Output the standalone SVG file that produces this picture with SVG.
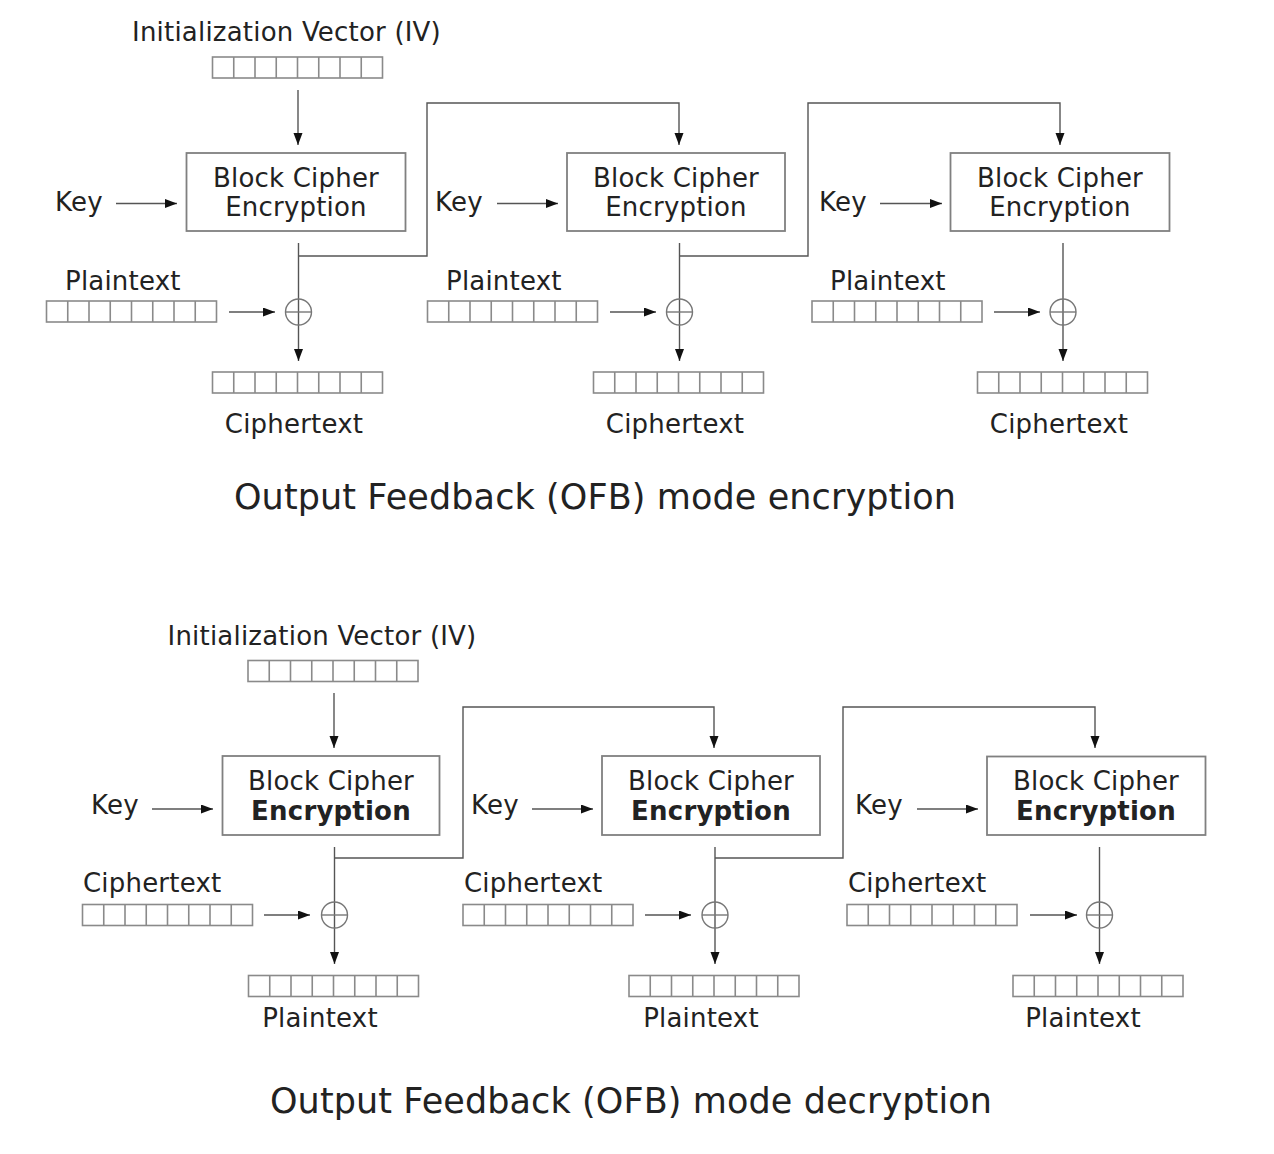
<svg xmlns="http://www.w3.org/2000/svg" xmlns:xlink="http://www.w3.org/1999/xlink" width="1274" height="1154" viewBox="0 0 1274 1154">
<style>
text{font-family:"DejaVu Sans","Verdana",sans-serif;fill:#222;}
.lbl{font-size:26px;letter-spacing:0.2px;}
.ttl{font-size:35px;letter-spacing:0.1px;}
.mid{text-anchor:middle;}
.bold{font-weight:bold;}
.box{fill:#fff;stroke:#808080;stroke-width:1.8;}
.cell{fill:none;stroke:#8a8a8a;stroke-width:1.6;}
.con{fill:none;stroke:#555;stroke-width:1.4;}
.arr{fill:none;stroke:#555;stroke-width:1.4;marker-end:url(#ah);}
.xor{fill:none;stroke:#777;stroke-width:1.4;}
</style>
<defs>
<marker id="ah" markerUnits="userSpaceOnUse" markerWidth="13" markerHeight="10" refX="12" refY="4.5" orient="auto">
<path d="M0,0 L12,4.5 L0,9 z" fill="#111"/>
</marker>
<g id="bytes">
<rect class="cell" x="0" y="0" width="170" height="21"/>
<path class="cell" d="M21.25,0V21M42.5,0V21M63.75,0V21M85,0V21M106.25,0V21M127.5,0V21M148.75,0V21"/>
</g>
</defs>
<rect width="1274" height="1154" fill="#fff"/>

<g id="connectors">
<!-- top: encryption -->
<path class="arr" d="M298,90V145"/>
<path class="arr" d="M116,203.5H177"/>
<path class="arr" d="M497,203.5H558"/>
<path class="arr" d="M880,203.5H942"/>
<path class="arr" d="M298.5,243V361"/>
<path class="arr" d="M679.5,243V361"/>
<path class="arr" d="M1063,243V361"/>
<path class="arr" d="M298.5,256H427V103H679V145"/>
<path class="arr" d="M679.5,256H808V103H1060V145"/>
<path class="arr" d="M229,312H275"/>
<path class="arr" d="M610,312H656"/>
<path class="arr" d="M994,312H1040"/>
<!-- bottom: decryption -->
<path class="arr" d="M334,693V748"/>
<path class="arr" d="M152,809H213"/>
<path class="arr" d="M532,809H593"/>
<path class="arr" d="M917,809H978"/>
<path class="arr" d="M334.5,847V964"/>
<path class="arr" d="M715,847V964"/>
<path class="arr" d="M1099.5,847V964"/>
<path class="arr" d="M334.5,858H463V707H714V748"/>
<path class="arr" d="M715,858H843V707H1095V748"/>
<path class="arr" d="M264,915H310"/>
<path class="arr" d="M645,915H691"/>
<path class="arr" d="M1030,915H1077"/>
</g>

<!-- ===== Encryption ===== -->
<g id="enc-iv">
<text class="lbl mid" x="286.5" y="41">Initialization Vector (IV)</text>
<use xlink:href="#bytes" x="212.5" y="57"/>
</g>
<g id="enc-block1">
<rect class="box" x="186.5" y="153" width="219" height="78"/>
<text class="lbl mid" x="296" y="186.5">Block Cipher</text>
<text class="lbl mid" x="296" y="215.5">Encryption</text>
</g>
<g id="enc-block2">
<rect class="box" x="567" y="153" width="218" height="78"/>
<text class="lbl mid" x="676" y="186.5">Block Cipher</text>
<text class="lbl mid" x="676" y="215.5">Encryption</text>
</g>
<g id="enc-block3">
<rect class="box" x="950.5" y="153" width="219" height="78"/>
<text class="lbl mid" x="1060" y="186.5">Block Cipher</text>
<text class="lbl mid" x="1060" y="215.5">Encryption</text>
</g>
<g id="enc-key1"><text class="lbl" x="55" y="211">Key</text></g>
<g id="enc-key2"><text class="lbl" x="435" y="211">Key</text></g>
<g id="enc-key3"><text class="lbl" x="819" y="211">Key</text></g>
<g id="enc-pt1"><text class="lbl" x="65" y="290">Plaintext</text><use xlink:href="#bytes" x="46.5" y="301"/></g>
<g id="enc-pt2"><text class="lbl" x="446" y="290">Plaintext</text><use xlink:href="#bytes" x="427.5" y="301"/></g>
<g id="enc-pt3"><text class="lbl" x="830" y="290">Plaintext</text><use xlink:href="#bytes" x="812" y="301"/></g>
<g id="enc-xor1"><circle class="xor" cx="298.5" cy="312" r="13"/><path class="xor" d="M285.5,312H311.5"/></g>
<g id="enc-xor2"><circle class="xor" cx="679.5" cy="312" r="13"/><path class="xor" d="M666.5,312H692.5"/></g>
<g id="enc-xor3"><circle class="xor" cx="1063" cy="312" r="13"/><path class="xor" d="M1050,312H1076"/></g>
<g id="enc-ct1"><use xlink:href="#bytes" x="212.5" y="372"/><text class="lbl mid" x="294" y="433">Ciphertext</text></g>
<g id="enc-ct2"><use xlink:href="#bytes" x="593.5" y="372"/><text class="lbl mid" x="675" y="433">Ciphertext</text></g>
<g id="enc-ct3"><use xlink:href="#bytes" x="977.5" y="372"/><text class="lbl mid" x="1059" y="433">Ciphertext</text></g>
<g id="enc-title"><text class="ttl mid" x="595" y="509">Output Feedback (OFB) mode encryption</text></g>

<!-- ===== Decryption ===== -->
<g id="dec-iv">
<text class="lbl mid" x="322" y="645">Initialization Vector (IV)</text>
<use xlink:href="#bytes" x="248" y="660.5"/>
</g>
<g id="dec-block1">
<rect class="box" x="222.5" y="756" width="217" height="79"/>
<text class="lbl mid" x="331" y="790">Block Cipher</text>
<text class="lbl mid bold" x="331" y="819.5">Encryption</text>
</g>
<g id="dec-block2">
<rect class="box" x="602" y="756" width="218" height="79"/>
<text class="lbl mid" x="711" y="790">Block Cipher</text>
<text class="lbl mid bold" x="711" y="819.5">Encryption</text>
</g>
<g id="dec-block3">
<rect class="box" x="987" y="756.5" width="218.5" height="78.5"/>
<text class="lbl mid" x="1096" y="790">Block Cipher</text>
<text class="lbl mid bold" x="1096" y="819.5">Encryption</text>
</g>
<g id="dec-key1"><text class="lbl" x="91" y="814">Key</text></g>
<g id="dec-key2"><text class="lbl" x="471" y="814">Key</text></g>
<g id="dec-key3"><text class="lbl" x="855" y="814">Key</text></g>
<g id="dec-ct1"><text class="lbl" x="83" y="892">Ciphertext</text><use xlink:href="#bytes" x="82.5" y="904.5"/></g>
<g id="dec-ct2"><text class="lbl" x="464" y="892">Ciphertext</text><use xlink:href="#bytes" x="463" y="904.5"/></g>
<g id="dec-ct3"><text class="lbl" x="848" y="892">Ciphertext</text><use xlink:href="#bytes" x="847" y="904.5"/></g>
<g id="dec-xor1"><circle class="xor" cx="334.5" cy="915" r="13"/><path class="xor" d="M321.5,915H347.5"/></g>
<g id="dec-xor2"><circle class="xor" cx="715" cy="915" r="13"/><path class="xor" d="M702,915H728"/></g>
<g id="dec-xor3"><circle class="xor" cx="1099.5" cy="915" r="13"/><path class="xor" d="M1086.5,915H1112.5"/></g>
<g id="dec-pt1"><use xlink:href="#bytes" x="248.5" y="975.5"/><text class="lbl mid" x="320" y="1027">Plaintext</text></g>
<g id="dec-pt2"><use xlink:href="#bytes" x="629" y="975.5"/><text class="lbl mid" x="701" y="1027">Plaintext</text></g>
<g id="dec-pt3"><use xlink:href="#bytes" x="1013" y="975.5"/><text class="lbl mid" x="1083" y="1027">Plaintext</text></g>
<g id="dec-title"><text class="ttl mid" x="631" y="1113">Output Feedback (OFB) mode decryption</text></g>
</svg>
